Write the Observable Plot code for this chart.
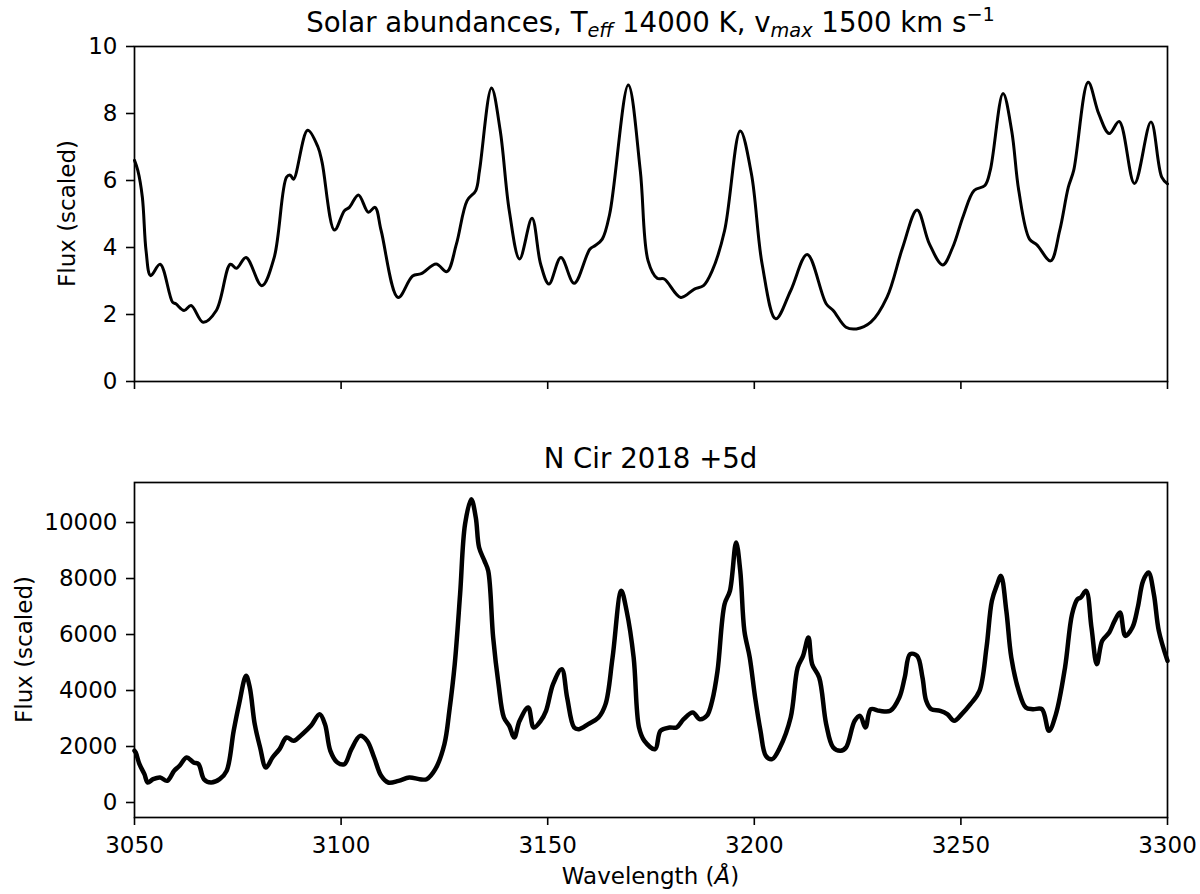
<!DOCTYPE html>
<html><head><meta charset="utf-8">
<script src="https://cdn.jsdelivr.net/npm/d3@7"></script>
<script src="https://cdn.jsdelivr.net/npm/@observablehq/plot@0.6"></script>
<style>
body{margin:0;background:#fff;}
#wrap{width:1200px;height:894px;}
#wrap svg{display:block;}
</style></head><body><div id="wrap"></div>
<script>
const modelWave = [3050,3050.8,3051.9,3052.8,3053.9,3056.2,3059.2,3060.0,3062.0,3063.7,3066.6,3069.8,3073.2,3074.7,3077.0,3080.8,3083.8,3086.8,3087.7,3088.5,3091.9,3094.4,3095.4,3098.4,3100.8,3102.0,3104.2,3106.6,3108.2,3109.7,3113.8,3117.3,3119.4,3123.0,3125.6,3127.9,3130.5,3132.6,3133.5,3136.4,3138.5,3140.7,3143.2,3146.2,3148.3,3150.3,3153.2,3156.4,3160.2,3161.5,3163.2,3165.0,3169.5,3172.4,3174.3,3176.5,3178.2,3182.2,3185.5,3187.7,3189.8,3192.8,3196.6,3199.3,3201.9,3205.2,3208.8,3212.8,3217.4,3219.1,3222.2,3224.7,3228.2,3232.1,3235.9,3239.4,3242.4,3245.6,3248.0,3250.6,3253.2,3255.8,3257.1,3260.2,3262.3,3264.0,3266.6,3268.4,3271.7,3273.9,3276.0,3277.3,3280.8,3283.4,3285.9,3288.3,3292.0,3296.0,3298.6,3300];
const modelFlux = [6.6,6.3,5.5,3.9,3.16,3.5,2.37,2.32,2.12,2.27,1.77,2.12,3.5,3.38,3.7,2.86,3.7,6.1,6.16,6.04,7.5,7.0,6.54,4.52,5.1,5.2,5.57,5.05,5.2,4.5,2.51,3.15,3.22,3.51,3.28,4.1,5.4,5.7,6.3,8.76,7.5,5.1,3.66,4.87,3.5,2.91,3.7,2.93,3.95,4.06,4.25,5.0,8.85,6.3,3.6,3.08,3.06,2.51,2.76,2.86,3.3,4.5,7.48,6.2,3.5,1.87,2.71,3.79,2.32,2.12,1.62,1.57,1.77,2.51,4.0,5.12,4.1,3.48,4.0,4.95,5.7,5.85,6.3,8.6,7.48,5.7,4.25,4.08,3.6,4.5,5.8,6.3,8.93,7.98,7.4,7.76,5.91,7.75,6.1,5.9];

const obsWave = [3050,3050.3,3051.2,3052.4,3053.2,3054.5,3056.2,3057.9,3059.6,3060.9,3062.6,3064.3,3065.5,3066.8,3068.5,3070.6,3072.3,3074.0,3075.3,3077.0,3077.9,3079.1,3080.4,3081.8,3083.4,3085.1,3086.8,3088.5,3090.6,3092.7,3094.8,3096.1,3097.4,3099.1,3100.8,3102.5,3104.6,3106.3,3108.0,3109.7,3111.4,3113.9,3116.5,3119.0,3120.7,3122.8,3125.0,3126.2,3127.5,3128.8,3130.0,3131.5,3132.6,3133.4,3134.7,3135.6,3136.8,3138.1,3139.4,3140.7,3141.9,3143.2,3145.3,3146.6,3148.3,3149.6,3151.3,3153.4,3154.7,3156.4,3157.6,3159.8,3162.3,3164.0,3165.7,3167.8,3169.1,3170.8,3172.1,3173.4,3176.0,3177.3,3179.5,3181.2,3182.9,3185.1,3186.8,3188.5,3189.8,3191.1,3192.8,3194.1,3195.6,3196.6,3197.6,3198.9,3200.2,3201.5,3202.8,3204.3,3206.2,3208.8,3210.5,3211.8,3213.1,3214.0,3215.7,3217.4,3219.1,3220.9,3222.2,3224.3,3225.6,3226.9,3228.2,3230.3,3232.9,3235.1,3236.4,3237.7,3239.4,3240.7,3241.6,3242.8,3245.0,3246.7,3248.4,3250.2,3252.3,3254.5,3256.2,3257.5,3258.8,3259.7,3261.0,3262.2,3264.0,3265.7,3267.4,3269.6,3271.3,3273.0,3275.2,3276.9,3278.2,3279.0,3280.3,3281.6,3282.9,3284.2,3285.9,3287.2,3288.5,3289.8,3291.5,3292.8,3294.1,3295.4,3296.7,3297.9,3300];
const obsFlux = [1850,1786,1369,1012,714,833,893,774,1131,1310,1607,1428,1369,833,714,833,1131,2560,3512,4524,4107,2798,1964,1250,1607,1905,2321,2202,2440,2738,3155,2798,1845,1428,1369,1905,2381,2202,1607,952,714,774,893,833,833,1190,2083,3274,4940,7440,9940,10833,10178,9107,8631,8274,5893,4226,3036,2738,2321,2917,3393,2679,2917,3274,4226,4762,3750,2679,2619,2798,3036,3512,5179,7560,6845,5179,2679,2202,1905,2560,2679,2679,2976,3214,2976,3095,3631,4702,7083,7560,9286,8274,6131,5179,3750,2560,1667,1548,1964,3036,4821,5238,5893,4940,4464,2798,1964,1845,1964,2917,3095,2679,3333,3274,3274,3750,4464,5298,5238,4464,3631,3333,3274,3155,2917,3155,3512,3988,5536,7202,7798,8095,6845,5179,3988,3393,3333,3333,2560,3155,4821,6726,7262,7321,7560,6250,4940,5774,6071,6488,6786,5952,6250,6964,7917,8214,7440,6131,5060];

const xTicks = [3050,3100,3150,3200,3250,3300];
const topYTicks = [0,2,4,6,8,10];
const botYTicks = [0,2000,4000,6000,8000,10000];

const model = modelWave.map((w,i)=>({w, f: modelFlux[i]}));
const obs = obsWave.map((w,i)=>({w, f: obsFlux[i]}));

const FONT = "DejaVu Sans";
const baseStyle = {fontFamily: FONT, fontSize: "23px", color: "#000", background: "#fff", overflow: "visible"};

const topPlot = Plot.plot({
  width: 1200, height: 400,
  marginLeft: 134, marginRight: 33, marginTop: 46, marginBottom: 19,
  style: baseStyle,
  x: {domain: [3050, 3300]},
  y: {domain: [0, 10]},
  marks: [
    Plot.axisX({ticks: xTicks, tickSize: 8, tickFormat: () => "", label: null, strokeWidth: 1.6}),
    Plot.axisY({ticks: topYTicks, tickSize: 8, tickPadding: 9, tickFormat: "d", label: null, strokeWidth: 1.6}),
    Plot.line(model, {x: "w", y: "f", stroke: "#000", strokeWidth: 3, curve: "catmull-rom"}),
    Plot.frame({stroke: "#000", strokeWidth: 1.7})
  ]
});

const botPlot = Plot.plot({
  width: 1200, height: 494,
  marginLeft: 134, marginRight: 33, marginTop: 82, marginBottom: 77,
  style: baseStyle,
  x: {domain: [3050, 3300]},
  y: {domain: [-536, 11430]},
  marks: [
    Plot.axisX({ticks: xTicks, tickSize: 8, tickPadding: 11, tickFormat: "d", label: null, strokeWidth: 1.6}),
    Plot.axisY({ticks: botYTicks, tickSize: 8, tickPadding: 9, tickFormat: "d", label: null, strokeWidth: 1.6}),
    Plot.line(obs, {x: "w", y: "f", stroke: "#000", strokeWidth: 4.5, strokeLinejoin: "round", curve: "catmull-rom"}),
    Plot.frame({stroke: "#000", strokeWidth: 1.7})
  ]
});

const wrap = document.getElementById("wrap");
wrap.appendChild(topPlot);
wrap.appendChild(botPlot);

// Titles and axis labels
const ts = d3.select(topPlot);
const t1 = ts.append("text").attr("x", 650.5).attr("y", 32).attr("text-anchor", "middle")
  .attr("font-family", FONT).attr("font-size", 27.6).attr("fill", "#000");
t1.append("tspan").text("Solar abundances, T");
t1.append("tspan").attr("font-size", 19.3).attr("font-style", "italic").attr("dy", 5).text("eff");
t1.append("tspan").attr("dy", -5).text(" 14000 K, v");
t1.append("tspan").attr("font-size", 19.3).attr("font-style", "italic").attr("dy", 5).text("max");
t1.append("tspan").attr("dy", -5).text(" 1500 km s");
t1.append("tspan").attr("font-size", 19.3).attr("dy", -11).text("\u22121");

ts.append("text").attr("transform", "translate(75,213.5) rotate(-90)").attr("text-anchor", "middle")
  .attr("font-family", FONT).attr("font-size", 23).attr("fill", "#000").text("Flux (scaled)");

const bs = d3.select(botPlot);
bs.append("text").attr("x", 650.5).attr("y", 68).attr("text-anchor", "middle")
  .attr("font-family", FONT).attr("font-size", 27.6).attr("fill", "#000").text("N Cir 2018 +5d");
bs.append("text").attr("transform", "translate(31.7,249.5) rotate(-90)").attr("text-anchor", "middle")
  .attr("font-family", FONT).attr("font-size", 23).attr("fill", "#000").text("Flux (scaled)");
const xl = bs.append("text").attr("x", 650.5).attr("y", 484).attr("text-anchor", "middle")
  .attr("font-family", FONT).attr("font-size", 23).attr("fill", "#000");
xl.append("tspan").text("Wavelength (");
xl.append("tspan").attr("font-style", "italic").text("\u00C5");
xl.append("tspan").text(")");
</script>
</body></html>
